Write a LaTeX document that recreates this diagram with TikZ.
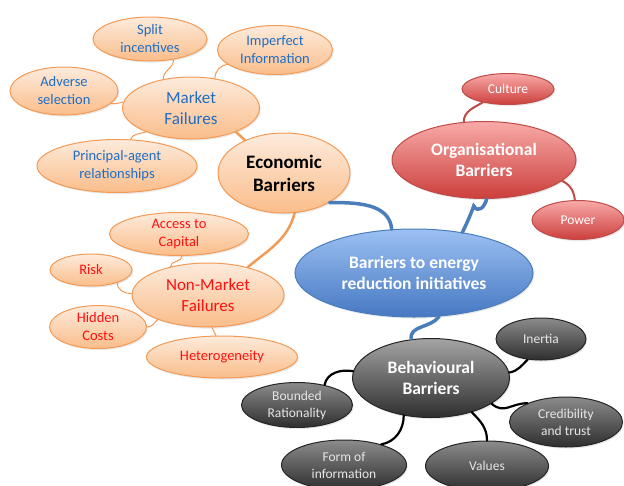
\documentclass[tikz,border=0pt]{standalone}
\usepackage{fontspec}
\setmainfont{Carlito}
\usetikzlibrary{shapes.geometric, shadows}

\definecolor{econtop}{HTML}{FDEBDC}
\definecolor{econbot}{HTML}{FABD8A}
\definecolor{econline}{HTML}{F39A55}
\definecolor{mktblue}{HTML}{1F6EC4}
\definecolor{nmred}{HTML}{FF1010}
\definecolor{orgtop}{HTML}{F8AAA8}
\definecolor{orgbot}{HTML}{CC3F3C}
\definecolor{orgline}{HTML}{BE4B48}
\definecolor{hubtop}{HTML}{9CC0F2}
\definecolor{hubbot}{HTML}{4678C2}
\definecolor{hubline}{HTML}{4A7EBB}
\definecolor{behtop}{HTML}{A4A4A4}
\definecolor{behbot}{HTML}{2E2E2E}
\definecolor{behtext}{HTML}{E6E6E6}

\newcommand{\smallfont}{\fontsize{14.5}{18}\selectfont}
\newcommand{\greyfont}{\fontsize{13.5}{17}\selectfont}
\newcommand{\midfont}{\fontsize{17}{21}\selectfont}
\newcommand{\bigfont}{\fontsize{17.5}{20.5}\selectfont\bfseries}

\tikzset{
  bubble/.style={ellipse, draw, inner sep=0pt, align=center,
    drop shadow={opacity=0.18, shadow xshift=1.2pt, shadow yshift=-1.6pt}},
  econ/.style={bubble, draw=econline, line width=1pt, top color=econtop, bottom color=econbot},
  mkt/.style={econ, font=\smallfont, text=mktblue},
  nonmkt/.style={econ, font=\smallfont, text=nmred},
  org/.style={bubble, draw=orgline, line width=1pt, top color=orgtop, bottom color=orgbot, text=white},
  hub/.style={bubble, draw=hubline, line width=1pt, top color=hubtop, bottom color=hubbot, text=white, font=\bigfont},
  beh/.style={bubble, draw=behbot!80!black, line width=1pt, top color=behtop, bottom color=behbot},
  behsub/.style={beh, top color=behtop!85!black, text=behtext, font=\greyfont},
  twig/.style={line cap=round},
}

\begin{document}
\begin{tikzpicture}[x=1pt, y=-1pt]
  \useasboundingbox (0,0) rectangle (624,485);
  \clip (0,0) rectangle (624,485);

  % centre
  \node[hub, minimum width=238, minimum height=88] (ctr) at (414,273) {Barriers to energy\\reduction initiatives};

  % economic branch
  \node[econ, font=\fontsize{19}{23}\selectfont\bfseries, minimum width=132, minimum height=80] (eb) at (284,173) {Economic\\Barriers};
  \node[econ, font=\midfont, text=mktblue, minimum width=137, minimum height=62] (mf) at (191,108) {Market\\Failures};
  \node[mkt, minimum width=114, minimum height=44] (si) at (150,39) {Split\\incentives};
  \node[mkt, minimum width=115, minimum height=49] (ii) at (275,50) {Imperfect\\Information};
  \node[mkt, minimum width=108, minimum height=48] (as) at (64,91) {Adverse\\selection};
  \node[mkt, minimum width=160, minimum height=53] (pa) at (117,166) {Principal-agent\\relationships};
  \node[econ, font=\midfont, text=nmred, minimum width=152, minimum height=64] (nmf) at (208,295) {Non-Market\\Failures};
  \node[nonmkt, minimum width=139, minimum height=43] (ac) at (179,234) {Access to\\Capital};
  \node[nonmkt, minimum width=82, minimum height=32] (rk) at (91,270) {Risk};
  \node[nonmkt, minimum width=97, minimum height=43] (hc) at (98,327) {Hidden\\Costs};
  \node[nonmkt, minimum width=151, minimum height=42] (het) at (222,357) {Heterogeneity};

  % organisational branch
  \node[org, font=\bigfont, minimum width=184, minimum height=77] (ob) at (484,160) {Organisational\\Barriers};
  \node[org, font=\greyfont, minimum width=92, minimum height=31] (cu) at (508,89) {Culture};
  \node[org, font=\greyfont, minimum width=92, minimum height=39] (pw) at (578,220) {Power};

  % behavioural branch
  \node[beh, font=\bigfont, text=white, minimum width=157, minimum height=79] (bb) at (431,378) {Behavioural\\Barriers};
  \node[behsub, minimum width=90, minimum height=42] (ine) at (541,339) {Inertia};
  \node[behsub, minimum width=111, minimum height=45] (br) at (297,405) {Bounded\\Rationality};
  \node[behsub, minimum width=113, minimum height=50] (cr) at (566,422) {Credibility\\and trust};
  \node[behsub, minimum width=125, minimum height=50] (fi) at (344,465) {Form of\\information};
  \node[behsub, minimum width=123, minimum height=50] (va) at (487,466) {Values};

  % main trunks
  \draw[twig, hubline, line width=3.5pt] (eb.-33) to[out=0, in=95] (ctr.117);
  \draw[twig, hubline, line width=3.5pt] (ob.-86) to[out=-105, in=-60, looseness=1.5] ++(-13,7) to[out=-110, in=65] (ctr.40);
  \draw[twig, hubline, line width=3.5pt] (ctr.-60) to[out=-125, in=100] (bb.117);
  \draw[twig, econline, line width=2.5pt] (mf.-28) -- (eb.140);
  \draw[twig, econline, line width=2.5pt] (eb.-75) to[out=-105, in=40] (nmf.35);

  % market failures twigs
  \draw[twig, econline, line width=1pt] (si.-41) to[out=-90, in=90] (mf.134);
  \draw[twig, econline, line width=1pt] (ii.197) to[out=185, in=90] (mf.51);
  \draw[twig, econline, line width=1pt] (as.-15) to[out=-10, in=190] (mf.175);
  \draw[twig, econline, line width=1pt] (pa.63) to[out=70, in=200] (mf.208);

  % non-market twigs
  \draw[twig, econline, line width=1pt] (ac.-82) to[out=-90, in=90] (nmf.143);
  \draw[twig, econline, line width=1pt] (rk.-26) to[out=-90, in=180] (nmf.179);
  \draw[twig, econline, line width=1pt] (hc.0) to[out=0, in=225] (nmf.206);
  \draw[twig, econline, line width=1pt] (nmf.-83) to[out=-80, in=100] (het.106);

  % organisational twigs
  \draw[twig, orgline, line width=2pt] (cu.208) to[out=210, in=90] (ob.118);
  \draw[twig, orgline, line width=2pt] (ob.-15) to[out=-25, in=95] (pw.99);

  % behavioural twigs
  \draw[twig, black, line width=2.2pt] (bb.4) to[out=10, in=-135] (ine.237);
  \draw[twig, black, line width=2.2pt] (bb.175) to[out=170, in=80] (br.36);
  \draw[twig, black, line width=2.2pt] (bb.-23) to[out=-40, in=180, looseness=1.2] (cr.154);
  \draw[twig, black, line width=2.2pt] (bb.234) to[out=-90, in=10] (fi.29);
  \draw[twig, black, line width=2.2pt] (bb.-40) to[out=-45, in=90] (va.90);
\end{tikzpicture}
\end{document}
